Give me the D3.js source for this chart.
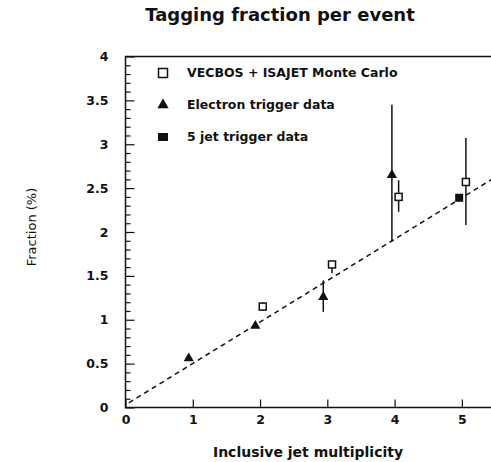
<!DOCTYPE html>
<html><head><meta charset="utf-8">
<script src="https://cdn.jsdelivr.net/npm/d3@7"></script>
<style>body{margin:0;background:#fff}svg{display:block}</style>
</head><body><svg id="c" width="491" height="462"></svg>
<script>
const title = "Tagging fraction per event";
const xTitle = "Inclusive jet multiplicity";
const yTitle = "Fraction (%)";
const xTicks = [0,1,2,3,4,5];
const yTicks = [0,0.5,1,1.5,2,2.5,3,3.5,4];
const yTickLabels = ["0","0.5","1","1.5","2","2.5","3","3.5","4"];
const legendLabels = ["VECBOS + ISAJET Monte Carlo","Electron trigger data","5 jet trigger data"];

// VECBOS + ISAJET Monte Carlo (open squares)
const mcX = [2.04, 3.07, 4.06, 5.06];
const mcY = [1.15, 1.63, 2.40, 2.57];
const mcLo = [1.10, 1.53, 2.23, 2.08];
const mcHi = [1.20, 1.66, 2.59, 3.07];
// Electron trigger data (triangles)
const elX = [0.94, 1.93, 2.94, 3.96];
const elY = [0.56, 0.93, 1.26, 2.65];
const elLo = [0.56, 0.93, 1.09, 1.89];
const elHi = [0.56, 0.93, 1.45, 3.45];
// 5 jet trigger data (filled square)
const jX = [4.96];
const jY = [2.39];
// dashed fit line
const fitX = [0.05, 5.5];
const fitY = [0.03 + 0.472*0.05, 0.03 + 0.472*5.5];

const svg = d3.select("#c");
const x = d3.scaleLinear().domain([0,5.5]).range([125.5, 495.5]);
const y = d3.scaleLinear().domain([0,4]).range([407.5, 56.5]);

const ink = "#111";
const g = svg.append("g");

// frame
g.append("rect").attr("x", x(0)).attr("y", y(4)).attr("width", x(5.5)-x(0)).attr("height", y(0)-y(4))
 .attr("fill","none").attr("stroke",ink).attr("stroke-width",1.5);

// y axis inside ticks
const yAxis = d3.axisRight(y).tickValues(d3.range(0,4.001,0.1)).tickSize(5).tickFormat("");
const ya = g.append("g").attr("transform",`translate(${x(0)},0)`).call(yAxis);
ya.select(".domain").remove();
ya.selectAll(".tick line").attr("stroke",ink).attr("stroke-width",1.2)
  .attr("x2", d => (Math.abs(d*2 - Math.round(d*2)) < 1e-6) ? 9 : 5);
// y labels
const yl = d3.axisLeft(y).tickValues(yTicks).tickSize(0).tickPadding(17)
  .tickFormat((d,i)=>yTickLabels[i]);
const yla = g.append("g").attr("transform",`translate(${x(0)},0)`).call(yl);
yla.select(".domain").remove();
yla.selectAll("text").attr("font-family","DejaVu Sans").attr("font-weight","bold").attr("font-size",12.5).attr("fill",ink);

// x axis inside ticks
const xAxis = d3.axisTop(x).tickValues(xTicks).tickSize(8).tickFormat("");
const xa = g.append("g").attr("transform",`translate(0,${y(0)})`).call(xAxis);
xa.select(".domain").remove();
xa.selectAll(".tick line").attr("stroke",ink).attr("stroke-width",1.2);
const xl = d3.axisBottom(x).tickValues(xTicks).tickSize(0).tickPadding(8).tickFormat(d3.format("d"));
const xla = g.append("g").attr("transform",`translate(0,${y(0)})`).call(xl);
xla.select(".domain").remove();
xla.selectAll("text").attr("font-family","DejaVu Sans").attr("font-weight","bold").attr("font-size",12.5).attr("fill",ink);

// fit line
g.append("line").attr("x1",x(fitX[0])).attr("y1",y(fitY[0])).attr("x2",x(fitX[1])).attr("y2",y(fitY[1]))
 .attr("stroke",ink).attr("stroke-width",1.5).attr("stroke-dasharray","5,4");

// error bars
function ebars(xs, lo, hi){
  g.append("g").selectAll("line").data(xs).join("line")
   .attr("x1",d=>x(d)).attr("x2",d=>x(d))
   .attr("y1",(d,i)=>y(lo[i])).attr("y2",(d,i)=>y(hi[i]))
   .attr("stroke",ink).attr("stroke-width",1.5);
}
ebars(mcX, mcLo, mcHi);
ebars(elX, elLo, elHi);

const tri = d3.symbol().type(d3.symbolTriangle).size(45);
g.append("g").selectAll("path").data(elX).join("path")
 .attr("transform",(d,i)=>`translate(${x(d)},${y(elY[i])})`).attr("d",tri()).attr("fill",ink);
g.append("g").selectAll("rect").data(mcX).join("rect")
 .attr("x",d=>x(d)-3.5).attr("y",(d,i)=>y(mcY[i])-3.5).attr("width",7).attr("height",7)
 .attr("fill","#fff").attr("stroke",ink).attr("stroke-width",1.5);
g.append("g").selectAll("rect").data(jX).join("rect")
 .attr("x",d=>x(d)-4).attr("y",(d,i)=>y(jY[i])-4).attr("width",8).attr("height",8).attr("fill",ink);

// legend
const lg = g.append("g");
const ly = [73, 105, 137];
lg.append("rect").attr("x",158.5).attr("y",ly[0]-4.5).attr("width",9).attr("height",9).attr("fill","#fff").attr("stroke",ink).attr("stroke-width",1.5);
lg.append("path").attr("transform",`translate(163,${ly[1]})`).attr("d",d3.symbol().type(d3.symbolTriangle).size(55)()).attr("fill",ink);
lg.append("rect").attr("x",158).attr("y",ly[2]-4).attr("width",10).attr("height",8).attr("fill",ink);
lg.selectAll("text").data(legendLabels).join("text")
 .attr("x",187).attr("y",(d,i)=>ly[i]).attr("dy","0.35em")
 .attr("font-family","DejaVu Sans").attr("font-weight","bold").attr("font-size",12.5).attr("fill",ink).text(d=>d);

// titles
svg.append("text").attr("x",280).attr("y",21).attr("text-anchor","middle")
 .attr("font-family","DejaVu Sans").attr("font-weight","bold").attr("font-size",18).attr("fill",ink).text(title);
svg.append("text").attr("x",308).attr("y",457).attr("text-anchor","middle")
 .attr("font-family","DejaVu Sans").attr("font-weight","bold").attr("font-size",14).attr("fill",ink).text(xTitle);
svg.append("text").attr("transform","translate(36,227) rotate(-90)").attr("text-anchor","middle")
 .attr("font-family","DejaVu Sans").attr("font-size",13).attr("fill",ink).text(yTitle);
</script></body></html>
